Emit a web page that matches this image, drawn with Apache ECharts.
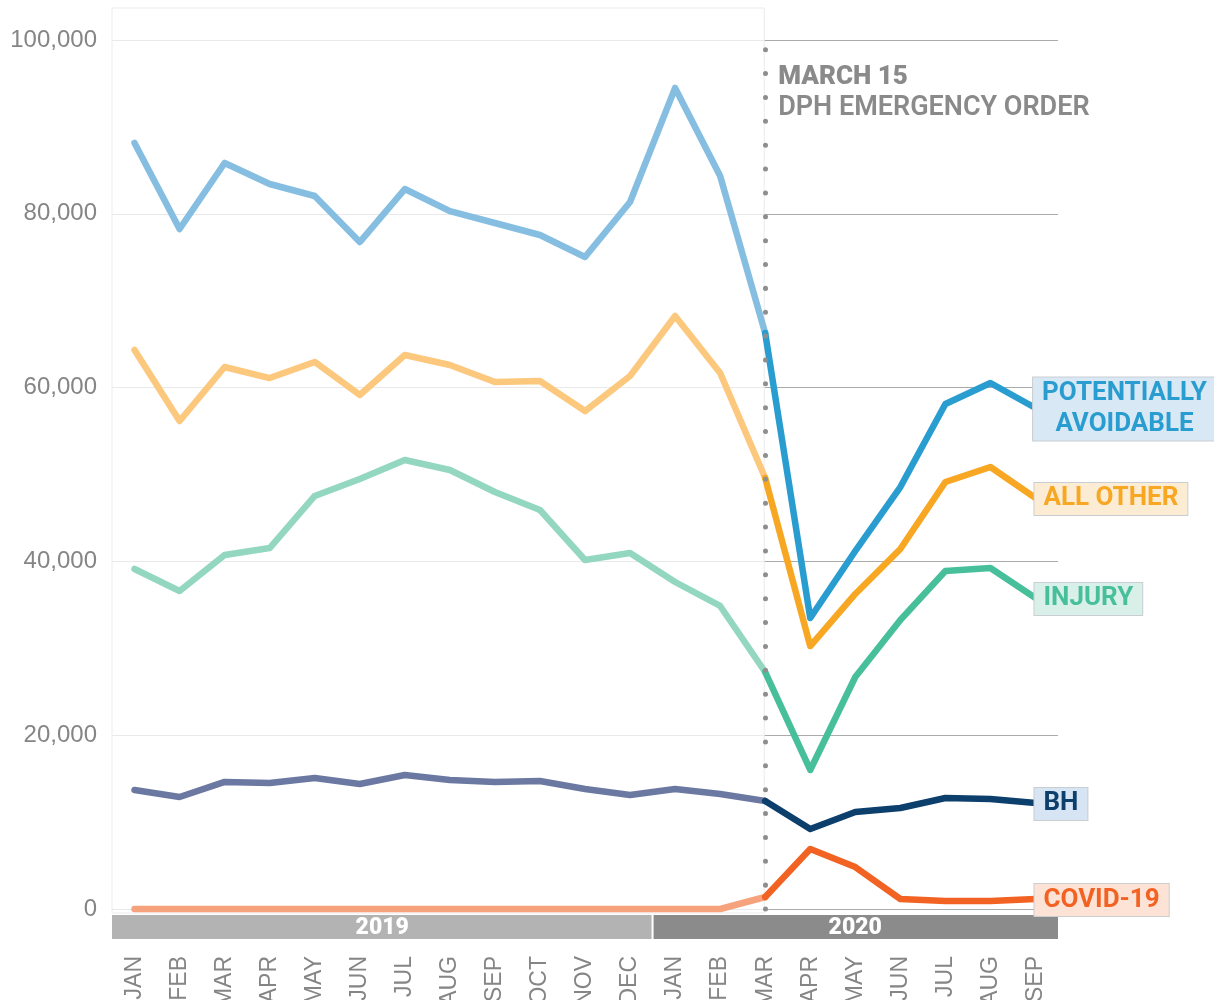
<!DOCTYPE html>
<html>
<head>
<meta charset="utf-8">
<script src="https://cdn.jsdelivr.net/npm/echarts@6/dist/echarts.min.js"></script>
<style>
html, body { margin: 0; padding: 0; background: #fff; }
#chart { width: 1214px; height: 1000px; }
</style>
</head>
<body>
<div id="chart"></div>
<script>
// months Jan 2019 .. Sep 2020
const months = ['JAN', 'FEB', 'MAR', 'APR', 'MAY', 'JUN', 'JUL', 'AUG', 'SEP', 'OCT', 'NOV', 'DEC',
  'JAN', 'FEB', 'MAR', 'APR', 'MAY', 'JUN', 'JUL', 'AUG', 'SEP']
const years = ['2019', '2020']
const yTicks = [0, 20000, 40000, 60000, 80000, 100000]
const orderIndex = 14 // MAR 2020, DPH emergency order

const potentiallyAvoidable = [88150, 78250, 85850, 83430, 82050, 76750, 82850, 80300, 78940, 77560, 75030, 81360,
  94480, 84350, 66280, 33490, 41200, 48560, 58110, 60530, 57650]
const allOther = [64330, 56160, 62370, 61100, 62950, 59150, 63750, 62600, 60650, 60760, 57300, 61340,
  68240, 61680, 49600, 30260, 36250, 41430, 49140, 50860, 47300]
const injury = [39130, 36590, 40740, 41540, 47530, 49480, 51670, 50520, 47990, 45920, 40160, 40970,
  37630, 34870, 27270, 16000, 26700, 33260, 38900, 39240, 35790]
const bh = [13690, 12890, 14620, 14500, 15080, 14390, 15420, 14850, 14620, 14730, 13810, 13120,
  13810, 13230, 12430, 9200, 11160, 11620, 12770, 12660, 12200]
const covid = [0, 0, 0, 0, 0, 0, 0, 0, 0, 0, 0, 0,
  0, 0, 1380, 6900, 4830, 1150, 920, 920, 1150]

const lines = [
  { name: 'POTENTIALLY\nAVOIDABLE', values: potentiallyAvoidable, color: '#2a9dd0', faded: '#86bee2', bg: '#d8e8f5', align: 'center', distance: 89 },
  { name: 'ALL OTHER', values: allOther, color: '#f7a722', faded: '#fcc87e', bg: '#fdecd4' },
  { name: 'INJURY', values: injury, color: '#48bf9b', faded: '#94d7c0', bg: '#d9f0e8' },
  { name: 'BH', values: bh, color: '#0d3f6d', faded: '#6b79a2', bg: '#d6e4f3' },
  { name: 'COVID-19', values: covid, color: '#f26223', faded: '#f6a27d', bg: '#fde3d5' }
]

const chart = echarts.init(document.getElementById('chart'))

const series = []
lines.forEach(function (l) {
  series.push({
    type: 'line',
    data: l.values.map((v, i) => i <= orderIndex ? v : null),
    showSymbol: false,
    clip: false,
    z: 3,
    lineStyle: { color: l.faded, width: 6.5, cap: 'round', join: 'round' },
    itemStyle: { color: l.faded },
    emphasis: { disabled: true }
  })
  series.push({
    type: 'line',
    data: l.values.map((v, i) => i >= orderIndex ? v : null),
    showSymbol: false,
    clip: false,
    z: 4,
    lineStyle: { color: l.color, width: 6.5, cap: 'round', join: 'round' },
    itemStyle: { color: l.color },
    emphasis: { disabled: true },
    endLabel: {
      show: true,
      formatter: l.name,
      align: l.align || 'left',
      distance: l.distance || -1,
      offset: [0, 1],
      color: l.color,
      fontFamily: 'Roboto',
      fontWeight: 'bold',
      fontSize: 26,
      lineHeight: 31,
      backgroundColor: l.bg,
      borderColor: '#c9ced3',
      borderWidth: 1,
      padding: [1, 9, 0, 9]
    }
  })
})

// dotted vertical line at the order date
series.push({
  type: 'line',
  data: [],
  markLine: {
    silent: true,
    symbol: 'none',
    label: { show: false },
    lineStyle: { color: '#8e8e8e', width: 5, type: [0.01, 23.86], cap: 'round' },
    data: [{ xAxis: orderIndex }]
  }
})

chart.setOption({
  animation: false,
  grid: { left: 112, right: 156, top: 40, bottom: 91, containLabel: false, outerBoundsMode: 'none' },
  xAxis: {
    type: 'category',
    data: months,
    boundaryGap: true,
    axisLine: { show: false },
    axisTick: { show: false },
    splitLine: { show: false },
    axisLabel: {
      interval: 0,
      rotate: 90,
      margin: 47,
      color: '#858585',
      fontFamily: 'Liberation Sans',
      fontSize: 23
    }
  },
  yAxis: {
    type: 'value',
    min: yTicks[0],
    max: yTicks[yTicks.length - 1],
    interval: yTicks[1] - yTicks[0],
    axisLine: { show: false },
    axisTick: { show: false },
    splitLine: { lineStyle: { color: '#ababab', width: 1 } },
    axisLabel: {
      margin: 15,
      color: '#858585',
      fontFamily: 'Liberation Sans',
      fontSize: 24,
      formatter: v => v.toLocaleString('en-US')
    }
  },
  series: series
})

// decorations placed from the axes
const x0 = chart.convertToPixel({ xAxisIndex: 0 }, 0)
const x1 = chart.convertToPixel({ xAxisIndex: 0 }, 1)
const band = x1 - x0
const xCut = chart.convertToPixel({ xAxisIndex: 0 }, orderIndex)
const xYear = chart.convertToPixel({ xAxisIndex: 0 }, 12) - band / 2
const xEnd = chart.convertToPixel({ xAxisIndex: 0 }, months.length - 1) + band / 2
const xStart = x0 - band / 2
const yZero = chart.convertToPixel({ yAxisIndex: 0 }, 0)

chart.setOption({
  graphic: [
    {
      type: 'rect', z: 1, silent: true,
      shape: { x: xStart, y: 8, width: xCut - xStart - 1, height: yZero - 4 },
      style: { fill: 'rgba(255,255,255,0.74)', stroke: '#ebebeb', lineWidth: 1 }
    },
    {
      type: 'rect', z: 1, silent: true,
      shape: { x: xStart, y: yZero + 6, width: xYear - xStart - 1, height: 24 },
      style: { fill: '#b3b3b3' }
    },
    {
      type: 'rect', z: 1, silent: true,
      shape: { x: xYear + 1, y: yZero + 6, width: xEnd - xYear - 1, height: 24 },
      style: { fill: '#8b8b8b' }
    },
    {
      type: 'text', z: 2, silent: true,
      x: (xStart + xYear) / 2, y: yZero + 19,
      style: { text: years[0], fill: '#fff', font: '900 23px Roboto', align: 'center', verticalAlign: 'middle' }
    },
    {
      type: 'text', z: 2, silent: true,
      x: (xYear + xEnd) / 2, y: yZero + 19,
      style: { text: years[1], fill: '#fff', font: '900 23px Roboto', align: 'center', verticalAlign: 'middle' }
    },
    {
      type: 'text', z: 5, silent: true,
      x: xCut + 13, y: 77,
      style: { text: 'MARCH 15', fill: '#8a8a8a', font: '900 26px Roboto', verticalAlign: 'middle' }
    },
    {
      type: 'text', z: 5, silent: true,
      x: xCut + 13, y: 108,
      style: { text: 'DPH EMERGENCY ORDER', fill: '#8a8a8a', font: '600 27px Roboto', verticalAlign: 'middle' }
    }
  ]
})
</script>
</body>
</html>
